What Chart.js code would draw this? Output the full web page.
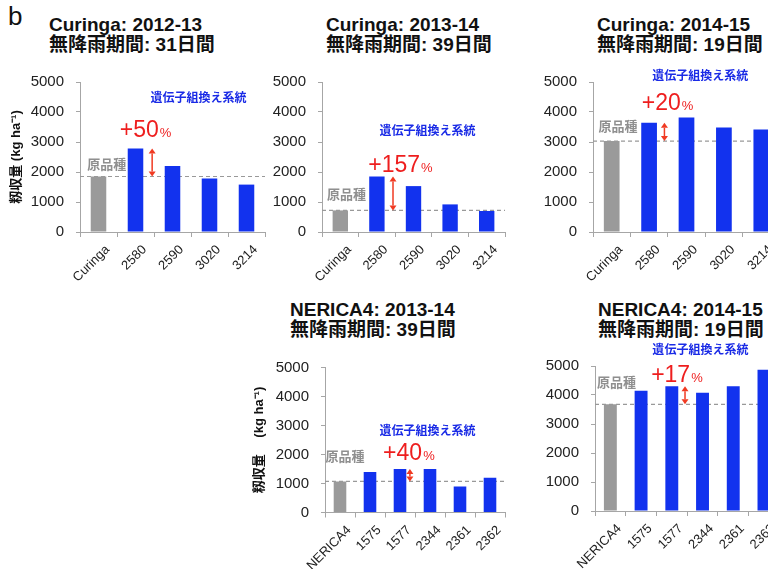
<!DOCTYPE html>
<html>
<head>
<meta charset="utf-8">
<script src="https://cdn.jsdelivr.net/npm/chart.js@4.4.1/dist/chart.umd.min.js"></script>
<style>
  html, body { margin: 0; padding: 0; background: #fff; overflow: hidden; }
  #fig { position: relative; width: 768px; height: 569px; overflow: hidden; background: #fff; }
  #fig canvas { position: absolute; }
  .titol { position: absolute; font: bold 19px 'Liberation Sans', 'Noto Sans CJK JP', sans-serif; line-height: 20px; color: #111; white-space: nowrap; }
  #lletra { position: absolute; left: 8px; top: 3px; font: 26px 'Liberation Sans', sans-serif; line-height: 26px; color: #111; }
</style>
</head>
<body>
<div id="fig">
  <div id="lletra">b</div>
  <div class="titol" style="left:49px; top:15px">Curinga: 2012-13<br>無降雨期間: 31日間</div>
  <div class="titol" style="left:326px; top:15px">Curinga: 2013-14<br>無降雨期間: 39日間</div>
  <div class="titol" style="left:597px; top:15px">Curinga: 2014-15<br>無降雨期間: 19日間</div>
  <div class="titol" style="left:290px; top:300px">NERICA4: 2013-14<br>無降雨期間: 39日間</div>
  <div class="titol" style="left:598px; top:300px">NERICA4: 2014-15<br>無降雨期間: 19日間</div>
  <canvas id="g1" width="270" height="230" style="left:0px; top:60px"></canvas>
  <canvas id="g2" width="258" height="230" style="left:252px; top:60px"></canvas>
  <canvas id="g3" width="257" height="230" style="left:523px; top:60px"></canvas>
  <canvas id="g4" width="258" height="229" style="left:252px; top:340px"></canvas>
  <canvas id="g5" width="255" height="229" style="left:525px; top:340px"></canvas>
</div>
<script>
// dades llegides de la figura (kg/ha)
const categoriesCuringa = ['Curinga', '2580', '2590', '3020', '3214'];
const categoriesNerica = ['NERICA4', '1575', '1577', '2344', '2361', '2362'];
const curinga1213 = [1850, 2780, 2200, 1780, 1580];
const curinga1314 = [720, 1850, 1530, 920, 700];
const curinga1415 = [3030, 3640, 3820, 3480, 3420];
const nerica1314 = [1070, 1400, 1500, 1500, 900, 1200];
const nerica1415 = [3680, 4150, 4300, 4080, 4300, 4870];
const augments = ['+50', '+157', '+20', '+40', '+17'];
const yMax = 5000;
const yPas = 1000;

const FONT = "'Liberation Sans', 'Noto Sans CJK JP', sans-serif";
const BLAU = '#1232EE';
const GRIS = '#9a9a9a';
const VERMELL = '#EE1E1E';
const EIX = '#a6a6a6';

function fletxa(ctx, x, y1, y2) {
    const dalt = Math.min(y1, y2), baix = Math.max(y1, y2);
    const h = 5, w = 3.5;
    ctx.strokeStyle = '#F03A22';
    ctx.fillStyle = '#F03A22';
    ctx.lineWidth = 1.5;
    ctx.beginPath(); ctx.moveTo(x, dalt + h); ctx.lineTo(x, baix - h); ctx.stroke();
    ctx.beginPath(); ctx.moveTo(x, dalt); ctx.lineTo(x - w, dalt + h); ctx.lineTo(x + w, dalt + h); ctx.closePath(); ctx.fill();
    ctx.beginPath(); ctx.moveTo(x, baix); ctx.lineTo(x - w, baix - h); ctx.lineTo(x + w, baix - h); ctx.closePath(); ctx.fill();
}

const marcadors = {
    id: 'marcadors',
    beforeDatasetsDraw(chart, args, o) {
        const ctx = chart.ctx, a = chart.chartArea;
        const y = chart.scales.y.getPixelForValue(o.base);
        ctx.save();
        ctx.strokeStyle = '#999';
        ctx.lineWidth = 1.2;
        ctx.setLineDash([4, 3]);
        ctx.beginPath(); ctx.moveTo(a.left, y); ctx.lineTo(a.right, y); ctx.stroke();
        ctx.restore();
    },
    afterDatasetsDraw(chart, args, o) {
        const ctx = chart.ctx, sx = chart.scales.x, sy = chart.scales.y;
        ctx.save();
        ctx.textAlign = 'center';
        ctx.textBaseline = 'middle';
        // 原品種
        ctx.fillStyle = '#8f8f8f';
        ctx.font = 'bold 13px ' + FONT;
        ctx.fillText('原品種', sx.getPixelForValue(o.orig[0]), sy.getPixelForValue(o.orig[1]));
        // 遺伝子組換え系統
        ctx.fillStyle = '#1a2be6';
        ctx.font = 'bold 12px ' + FONT;
        ctx.fillText('遺伝子組換え系統', sx.getPixelForValue(o.gm[0]), sy.getPixelForValue(o.gm[1]));
        // percentatge
        ctx.textAlign = 'left';
        ctx.textBaseline = 'alphabetic';
        ctx.font = '23px ' + FONT;
        const wGran = ctx.measureText(o.pct).width;
        ctx.font = '13px ' + FONT;
        const wPetit = ctx.measureText('%').width;
        let x0 = sx.getPixelForValue(o.pos[0]) - (wGran + wPetit) / 2;
        const yb = sy.getPixelForValue(o.pos[1]);
        ctx.fillStyle = VERMELL;
        ctx.font = '23px ' + FONT;
        ctx.fillText(o.pct, x0, yb);
        ctx.font = '13px ' + FONT;
        ctx.fillText('%', x0 + wGran + 1, yb);
        // fletxa
        fletxa(ctx, sx.getPixelForValue(o.fletxa[0]), sy.getPixelForValue(o.base), sy.getPixelForValue(o.fletxa[1]));
        ctx.restore();
    }
};

function dibuixar(id, etiquetes, valors, cfg) {
    new Chart(document.getElementById(id), {
        type: 'bar',
        data: {
            labels: etiquetes,
            datasets: [{
                data: valors,
                backgroundColor: valors.map((v, i) => i === 0 ? GRIS : BLAU),
                barPercentage: 0.42,
                categoryPercentage: 1
            }]
        },
        options: {
            responsive: false,
            animation: false,
            layout: { padding: { top: cfg.top, right: cfg.right, left: 0, bottom: 0 } },
            plugins: {
                legend: { display: false },
                tooltip: { enabled: false },
                marcadors: {
                    base: valors[0], orig: cfg.orig, gm: cfg.gm, pct: cfg.pct, pos: cfg.pos,
                    fletxa: [cfg.fx, valors[cfg.fi]]
                }
            },
            scales: {
                x: {
                    grid: { offset: true, drawOnChartArea: false, tickLength: 5, color: EIX },
                    border: { color: EIX },
                    ticks: {
                        minRotation: 45, maxRotation: 45, padding: 5, labelOffset: 9,
                        color: '#222', font: { family: FONT, size: 13 }
                    },
                    afterFit: s => { s.height = cfg.xh; }
                },
                y: {
                    min: 0, max: yMax,
                    ticks: {
                        stepSize: yPas, padding: 12, color: '#222', font: { family: FONT, size: 15 },
                        callback: v => String(v)
                    },
                    grid: { drawOnChartArea: false, tickLength: 4, color: EIX },
                    border: { color: EIX },
                    title: {
                        display: !!cfg.ytitol, text: cfg.ytitol || '', color: '#111',
                        font: { family: FONT, size: 13, weight: 'bold' },
                        padding: { top: cfg.ytpad || 0, bottom: 0 }
                    },
                    afterFit: s => { s.width = cfg.yw; }
                }
            }
        },
        plugins: [marcadors]
    });
}

dibuixar('g1', categoriesCuringa, curinga1213, {
    top: 22, right: 5, yw: 80, xh: 58, ytitol: '籾収量 (kg ha⁻¹)', ytpad: 9,
    orig: [0.22, 2230], gm: [2.7, 4430], pct: augments[0], pos: [1.26, 3170], fx: 1.45, fi: 1
});
dibuixar('g2', categoriesCuringa, curinga1314, {
    top: 22, right: 5, yw: 70, xh: 58,
    orig: [0.17, 1230], gm: [2.38, 3330], pct: augments[1], pos: [1.63, 2000], fx: 1.44, fi: 1
});
dibuixar('g3', categoriesCuringa, curinga1415, {
    top: 22, right: 0, yw: 70, xh: 58,
    orig: [0.17, 3470], gm: [2.37, 5170], pct: augments[2], pos: [1.48, 4070], fx: 1.41, fi: 1
});
dibuixar('g4', categoriesNerica, nerica1314, {
    top: 27.5, right: 5, yw: 73, xh: 56.5, ytitol: '籾収量\u3000 (kg ha⁻¹)', ytpad: 0,
    orig: [0.17, 1910], gm: [2.92, 2780], pct: augments[3], pos: [2.28, 1810], fx: 2.33, fi: 2
});
dibuixar('g5', categoriesNerica, nerica1415, {
    top: 26, right: 0, yw: 70, xh: 58,
    orig: [0.2, 4410], gm: [2.93, 5520], pct: augments[4], pos: [2.15, 4450], fx: 2.43, fi: 2
});
</script>
</body>
</html>
